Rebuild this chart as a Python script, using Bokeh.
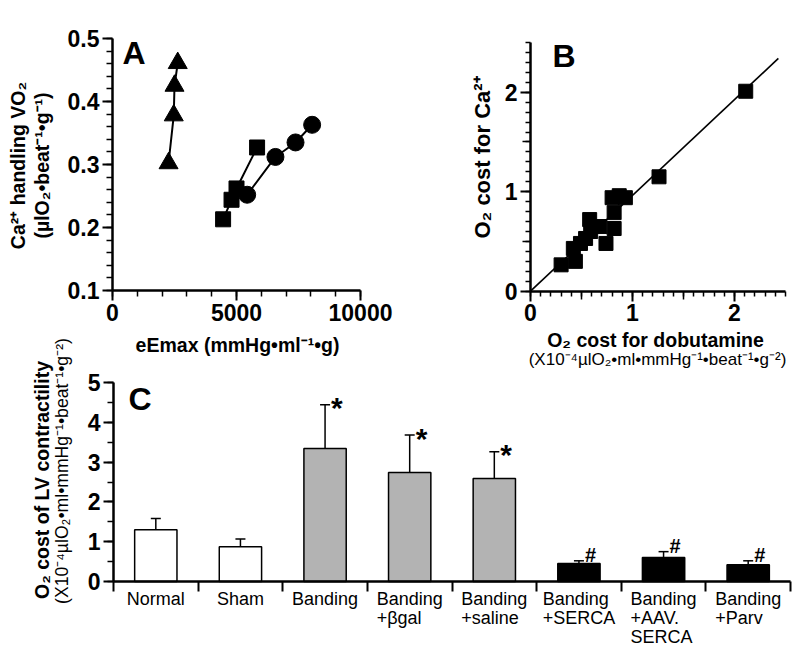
import numpy as np
from bokeh.plotting import figure
from bokeh.models import (Range1d, FixedTicker, Label, LabelSet, ColumnDataSource,
                          Whisker, TeeHead, BasicTickFormatter, LinearAxis)
from bokeh.layouts import column, row
from bokeh.embed import file_html
from bokeh.resources import INLINE
from bokeh.core.properties import value

FONT = "Liberation Sans"

# ---------------- Panel A data ----------------
tri_x = [2260, 2470, 2500, 2630]
tri_y = [0.302, 0.378, 0.425, 0.461]
sq_x = [4460, 4800, 5000, 5830]
sq_y = [0.213, 0.244, 0.262, 0.327]
circ_x = [5430, 6570, 7380, 8050]
circ_y = [0.252, 0.312, 0.335, 0.363]
a_xlim = (0, 10000)
a_ylim = (0.1, 0.5)
a_xticks = [0, 5000, 10000]
a_yticks = [0.1, 0.2, 0.3, 0.4, 0.5]

# ---------------- Panel B data ----------------
b_x = [0.30, 0.42, 0.44, 0.49, 0.54, 0.58, 0.59, 0.68, 0.74, 0.82, 0.82, 0.80, 0.87, 0.93, 1.26, 2.11]
b_y = [0.265, 0.43, 0.30, 0.48, 0.53, 0.72, 0.60, 0.65, 0.48, 0.63, 0.79, 0.94, 0.96, 0.94, 1.15, 2.01]
fit_x = [0.0, 2.43]
fit_y = [0.0, 2.34]
b_lim = (0, 2.5)
b_ticks = [0, 1, 2]
b_mid_ticks = [0.5, 1.5]

# ---------------- Panel C data ----------------
groups = ["Normal", "Sham", "Banding", "Banding\n+βgal", "Banding\n+saline",
          "Banding\n+SERCA", "Banding\n+AAV.\nSERCA", "Banding\n+Parv"]
means = [1.30, 0.87, 3.34, 2.74, 2.59, 0.45, 0.60, 0.42]
sems = [0.28, 0.20, 1.10, 0.94, 0.67, 0.07, 0.15, 0.10]
bar_colors = ["white", "white", "#b3b3b3", "#b3b3b3", "#b3b3b3", "black", "black", "black"]
marks = ["", "", "*", "*", "*", "#", "#", "#"]
c_ylim = (0, 5)
c_yticks = [0, 1, 2, 3, 4, 5]


def ext_range(d0, d1, p0, p1, c0, c1):
    """Range whose values d0,d1 land at pixels p0,p1 of a canvas spanning c0..c1."""
    k = (p1 - p0) / (d1 - d0)
    return Range1d(d0 - (p0 - c0) / k, d1 + (c1 - p1) / k)


def style_axis(ax, fs="23px"):
    ax.axis_line_width = 2.5
    ax.axis_line_color = "black"
    ax.major_tick_line_width = 2
    ax.minor_tick_line_width = 1.5
    ax.major_tick_line_color = "black"
    ax.minor_tick_line_color = "black"
    ax.major_tick_out = 10
    ax.major_tick_in = 0
    ax.minor_tick_out = 6
    ax.minor_tick_in = 0
    ax.major_label_text_font = FONT
    ax.major_label_text_font_style = "bold"
    ax.major_label_text_font_size = fs
    ax.major_label_text_color = "black"
    ax.major_label_standoff = 3


def base_fig(w, h, xr, yr):
    p = figure(width=w, height=h, x_range=xr, y_range=yr, output_backend="svg",
               toolbar_location=None, min_border=0)
    p.title.visible = False
    p.outline_line_color = None
    p.xgrid.visible = False
    p.ygrid.visible = False
    p.background_fill_color = "white"
    p.border_fill_color = "white"
    return p


def lab(p, x, y, text, size, bold=True, angle=0.0, align="center"):
    """Text centred vertically on (x, y), screen pixels from the canvas bottom-left."""
    p.add_layout(Label(x=x, y=y, x_units="screen", y_units="screen", text=text,
                       angle=angle, text_font=FONT, text_font_size=f"{size}px",
                       text_font_style="bold" if bold else "normal",
                       text_align=align, text_baseline="middle", text_color="black"))


def fix_axes(p, xlim, ylim):
    xa, ya = p.xaxis[0], p.yaxis[0]
    xa.fixed_location = ylim[0]
    xa.bounds = xlim
    ya.fixed_location = xlim[0]
    ya.bounds = ylim
    style_axis(xa)
    style_axis(ya)
    return xa, ya


# ================= Panel A =================  canvas page x 0..400, y 0..330
pA = base_fig(400, 330,
              ext_range(a_xlim[0], a_xlim[1], 112, 360, 0, 400),
              ext_range(a_ylim[0], a_ylim[1], 290, 38, 330, 0))
xa, ya = fix_axes(pA, a_xlim, a_ylim)
xa.ticker = FixedTicker(ticks=a_xticks, minor_ticks=list(range(0, 10001, 1000)))
xa.formatter = BasicTickFormatter(use_scientific=False)
ya.ticker = FixedTicker(ticks=a_yticks,
                        minor_ticks=list(np.round(np.arange(0.1, 0.5001, 0.02), 3)))

pA.line(tri_x, tri_y, line_color="black", line_width=2)
pA.scatter(tri_x, tri_y, marker="triangle", size=19, fill_color="black", line_color="black")
pA.line(sq_x, sq_y, line_color="black", line_width=2)
pA.scatter(sq_x, sq_y, marker="square", size=15, fill_color="black", line_color="black")
pA.line(circ_x, circ_y, line_color="black", line_width=2)
pA.scatter(circ_x, circ_y, marker="circle", size=17, fill_color="black", line_color="black")

lab(pA, 122, 330 - 52, "A", 32, align="left")
lab(pA, 17, 330 - 165, "Ca²⁺ handling VO₂", 19.5, angle=np.pi / 2)
lab(pA, 41, 330 - 165, "(µlO₂•beat⁻¹•g⁻¹)", 19.5, angle=np.pi / 2)

# ================= Panel B =================  canvas page x 400..800, y 0..330
pB = base_fig(400, 330,
              ext_range(b_lim[0], b_lim[1], 530, 785, 400, 800),
              ext_range(b_lim[0], b_lim[1], 290.7, 42, 330, 0))
xb, yb = fix_axes(pB, b_lim, b_lim)
b_minor = list(np.round(np.arange(0, 2.5001, 0.1), 2))
for ax, side in ((xb, "below"), (yb, "left")):
    ax.ticker = FixedTicker(ticks=b_ticks, minor_ticks=b_minor)
    ax.minor_tick_out = 5
    mid = LinearAxis(ticker=FixedTicker(ticks=[], minor_ticks=b_mid_ticks),
                     fixed_location=ax.fixed_location, axis_line_color=None,
                     minor_tick_out=8, minor_tick_in=0, minor_tick_line_width=1.5,
                     minor_tick_line_color="black", major_tick_line_color=None)
    pB.add_layout(mid, side)

pB.line(fit_x, fit_y, line_color="black", line_width=1.6)
pB.scatter(b_x, b_y, marker="square", size=14, fill_color="black", line_color="black")

lab(pB, 152, 330 - 55, "B", 32, align="left")
lab(pB, 82, 330 - 157, "O₂ cost for Ca²⁺", 22, angle=np.pi / 2)

# ================= Panel C =================  canvas page x 0..800, y 330..649
n = len(groups)
centers = [i + 0.5 for i in range(n)]
pC = base_fig(800, 319,
              ext_range(0, n, 113, 790, 0, 800),
              ext_range(c_ylim[0], c_ylim[1], 581, 382, 649, 330))
xc, yc = fix_axes(pC, (0, n), c_ylim)
xc.ticker = FixedTicker(ticks=[], minor_ticks=list(range(n + 1)))
xc.minor_tick_out = 10
xc.minor_tick_line_width = 2
yc.ticker = FixedTicker(ticks=c_yticks, minor_ticks=list(np.arange(0, 5.01, 0.5)))

src = ColumnDataSource(dict(x=centers, top=means,
                            upper=[m + s for m, s in zip(means, sems)],
                            color=bar_colors, label=groups))
pC.vbar(x="x", top="top", bottom=0, width=0.5, fill_color="color",
        line_color="black", line_width=1.5, source=src)
pC.add_layout(Whisker(base="x", lower="top", upper="upper", source=src,
                      dimension="height", line_width=1.5, line_color="black",
                      upper_head=TeeHead(size=10, line_width=1.5, line_color="black"),
                      lower_head=None))

star_src = ColumnDataSource(dict(
    x=[centers[i] for i in range(n) if marks[i] == "*"],
    y=[means[i] + sems[i] for i in range(n) if marks[i] == "*"],
    t=[marks[i] for i in range(n) if marks[i] == "*"]))
hash_src = ColumnDataSource(dict(
    x=[centers[i] for i in range(n) if marks[i] == "#"],
    y=[means[i] + sems[i] for i in range(n) if marks[i] == "#"],
    t=[marks[i] for i in range(n) if marks[i] == "#"]))
pC.text(x="x", y="y", text="t", source=star_src, x_offset=6, y_offset=3,
        text_font=value(FONT), text_font_style="bold", text_font_size="30px",
        text_align="left", text_baseline="middle", text_color="black")
pC.text(x="x", y="y", text="t", source=hash_src, x_offset=6, y_offset=-6,
        text_font=value(FONT), text_font_style="bold", text_font_size="20px",
        text_align="left", text_baseline="middle", text_color="black")

pC.add_layout(LabelSet(x="x", y=649 - 588, y_units="screen", text="label", source=src,
                       text_font=value(FONT), text_font_size="18px",
                       text_align="center", text_baseline="top",
                       text_line_height=0.95, text_color="black"))

lab(pC, 128, 649 - 398.5, "C", 32, align="left")
lab(pC, 41, 649 - 479.5, "O₂ cost of LV contractility", 19.5, angle=np.pi / 2)
lab(pC, 61, 649 - 470.5, "(X10⁻⁴µlO₂•ml•mmHg⁻¹•beat⁻¹•g⁻²)", 17.6, bold=False,
    angle=np.pi / 2)

# x-axis titles of panels A and B (they sit in the band above panel C)
lab(pC, 237, 649 - 344.5, "eEmax (mmHg•ml⁻¹•g)", 19.5)
lab(pC, 655, 649 - 339.5, "O₂ cost for dobutamine", 19.5)
lab(pC, 657, 649 - 359, "(X10⁻⁴µlO₂•ml•mmHg⁻¹•beat⁻¹•g⁻²)", 17, bold=False)

layout = column(row(pA, pB), pC)
open("out.html", "w").write(file_html(layout, INLINE))
